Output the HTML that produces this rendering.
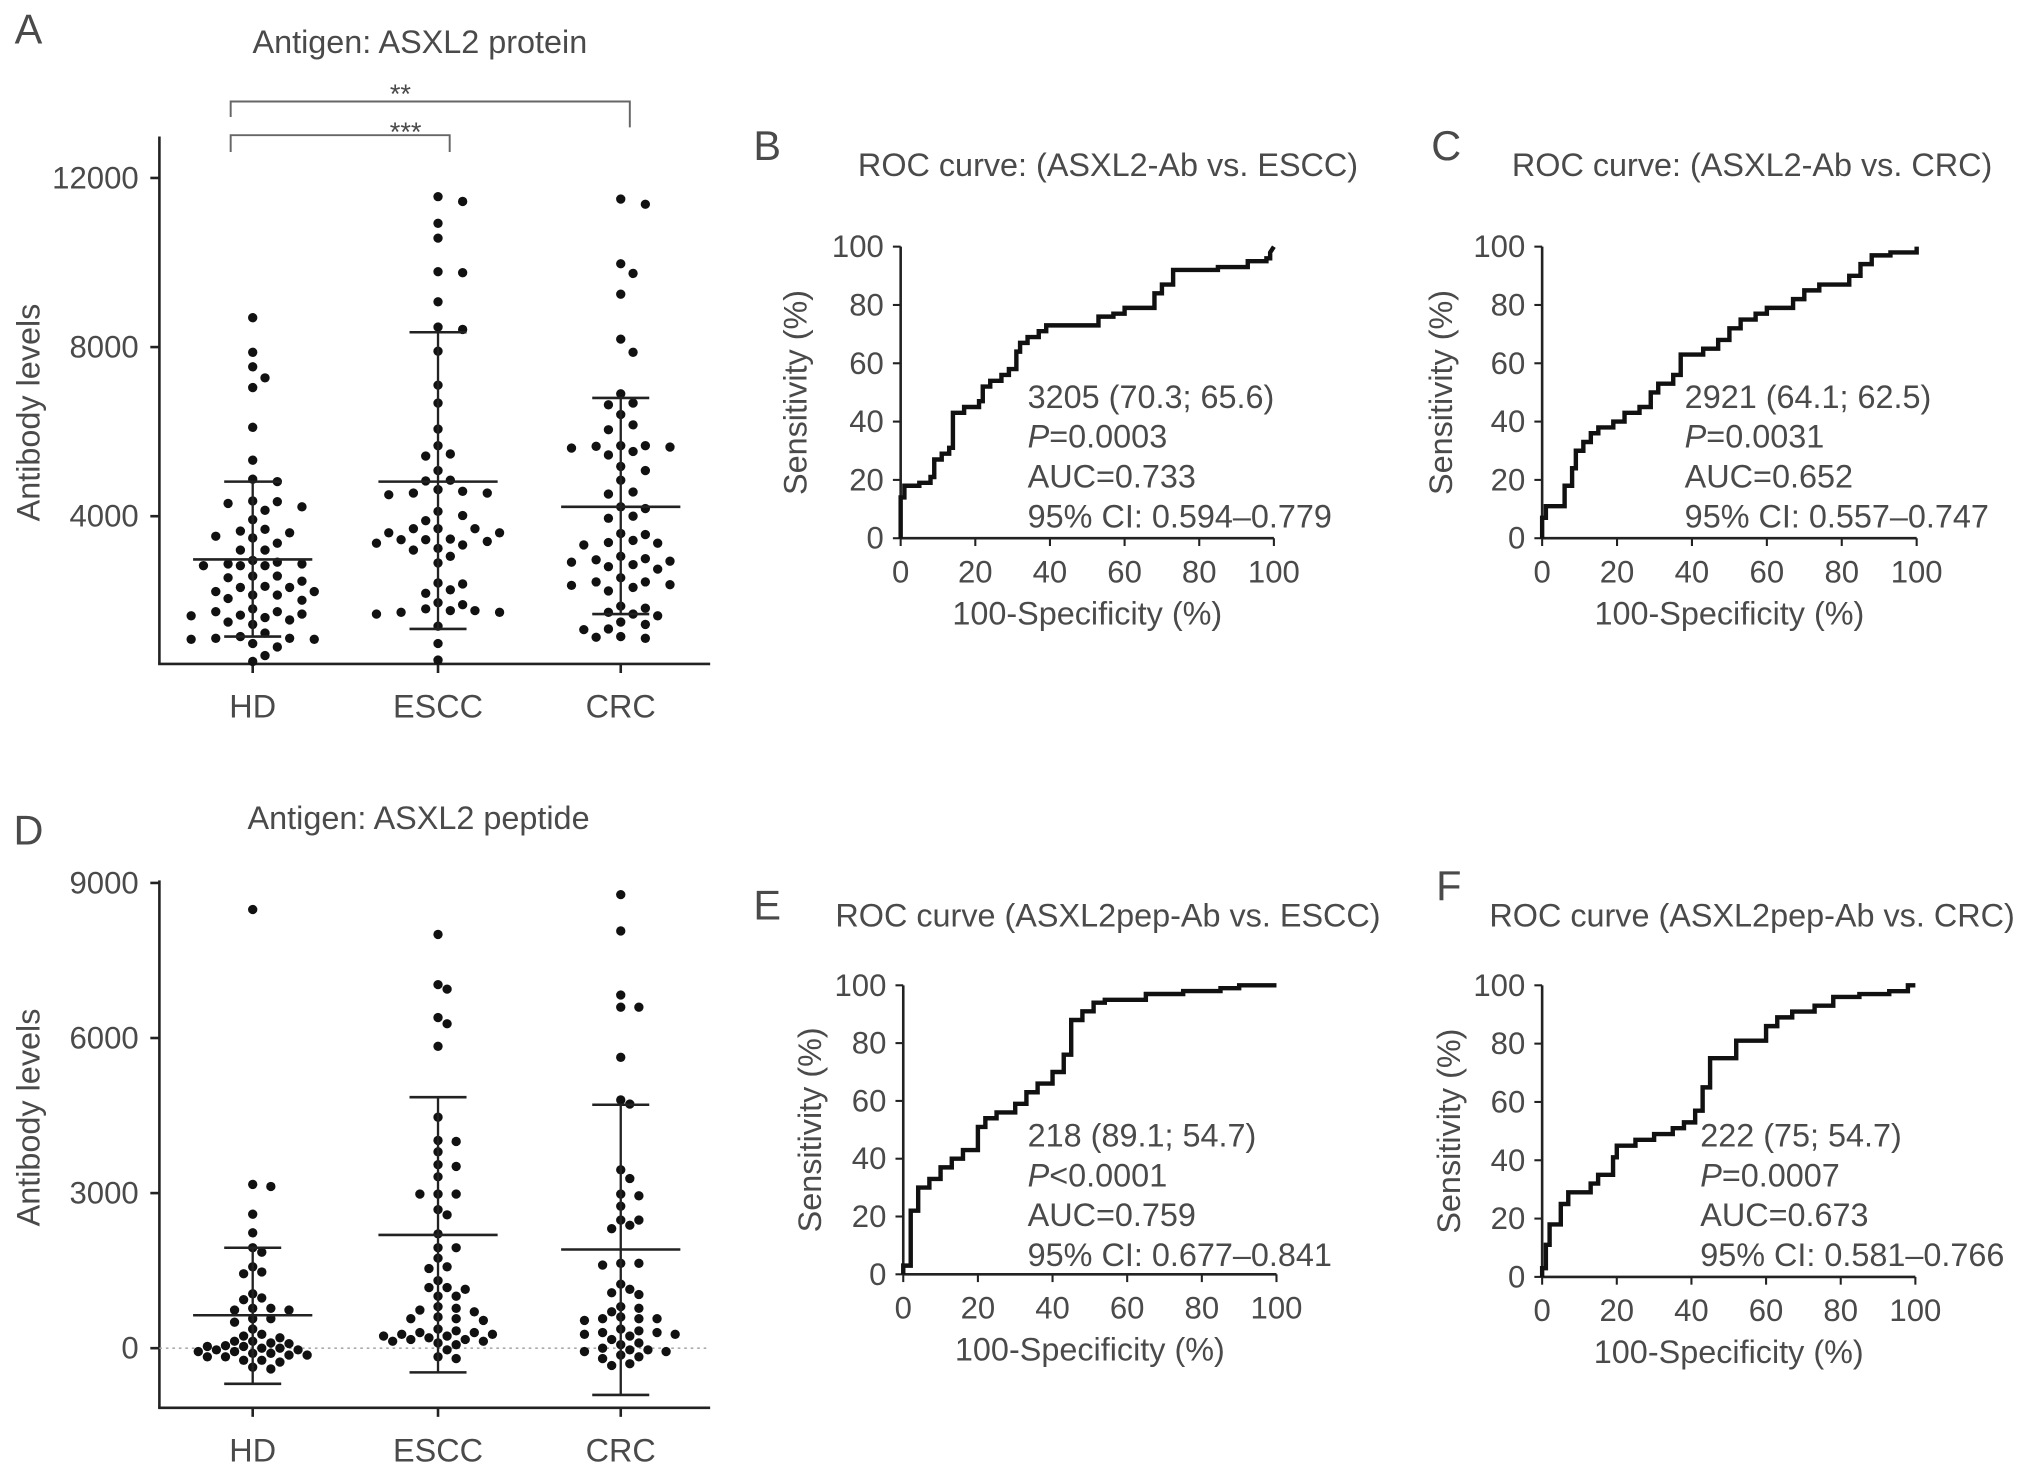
<!DOCTYPE html>
<html><head><meta charset="utf-8">
<style>
html,body{margin:0;padding:0;background:#fff;}
svg{display:block;}
text{font-family:"Liberation Sans",sans-serif;fill:#4a4a4a;}
</style></head>
<body>
<svg id="fig" width="2032" height="1473" viewBox="0 0 1568 1136" xmlns="http://www.w3.org/2000/svg">
<g id="g"></g>
</svg>
<script>
// ---------- Data ----------
const categories = ["HD","ESCC","CRC"];
const proteinHD = [8695,7877,7533,7272,7043,6102,5325,4818,4875,4360,4302,4221,4343,4139,3918,3648,3689,3607,3526,3485,3198,3362,3198,2871,2830,2912,2953,2830,2830,2871,2585,2585,2544,2462,2315,2315,2340,2217,2135,2217,2135,2053,2012,1808,1742,1685,1660,1603,1644,1742,1496,1440,1546,1235,1088,989,907,1112,1153,1112,1088,703,564];
const proteinESCC = [11558,11444,10928,10577,9759,9783,9071,8474,8417,7902,7100,6675,6061,5668,5423,5472,5080,4834,4851,4548,4589,4630,4507,4548,4114,4016,3894,3705,3705,3607,3705,3607,3460,3444,3362,3444,3403,3321,3239,3198,3051,2895,2397,2421,2258,2176,1906,1955,1808,1726,1726,1685,1767,1767,1399,989,597];
const proteinCRC = [11501,11378,9971,9742,9251,8188,7877,6896,6675,6634,6405,6160,6045,5530,5448,5668,5652,5668,5636,5611,5178,5080,4851,4572,4523,4221,4180,3951,4000,3591,3566,3378,3321,3362,3427,2969,3051,2936,2994,2912,2855,2748,2806,2446,2446,2380,2315,2544,2364,2233,1873,1824,1726,1685,1644,1496,1317,1440,1333,1153,1137,1112];
const proteinMean = [2977,4818,4221];
const proteinUpper = [4818,8351,6798];
const proteinLower = [1153,1333,1685];
const proteinTicks = [4000,8000,12000];

const peptideHD = [8486,3168,3128,2592,2231,1943,1856,1574,1474,1440,1052,972,938,771,771,738,738,570,503,570,369,268,235,201,134,101,34,34,0,0,-33,-33,-66,-66,-100,-100,-134,-134,-167,-167,-234,-234,-268,-368,-402,134,88,48];
const peptideESCC = [8004,7033,6946,6396,6276,5840,4468,4019,3999,3798,3550,3516,3316,2981,2981,2981,2680,2579,2211,1943,1943,1742,1574,1541,1307,1172,1172,1139,1005,1005,804,771,738,704,604,570,570,537,369,335,302,302,268,268,235,235,201,168,168,134,101,67,134,-33,-167,-201];
const peptideCRC = [8774,8071,6832,6597,6597,5626,4802,4722,3450,3282,2981,2947,2747,2478,2478,2378,2311,1641,1641,1608,1239,1139,1072,1038,804,771,704,570,570,537,570,604,369,335,302,302,268,268,235,168,101,67,0,-33,-33,-66,-66,-134,-167,-201,-301,-335];
const peptideMean = [637,2190,1909];
const peptideUpper = [1943,4856,4709];
const peptideLower = [-689,-468,-904];
const peptideTicks = [0,3000,6000,9000];

const rocTicks = [0,20,40,60,80,100];
const rocB_fpr = [0,0,1,1,5,5,8,8,9,9,11,11,13,13,14,14,17,17,21,21,22,22,24,24,27,27,29,29,31,31,32,32,34,34,37,37,39,39,53,53,57,57,60,60,68,68,70,70,73,73,85,85,93,93,98,98,99,99,100];
const rocB_tpr = [0,14,14,18,18,19,19,21,21,27,27,29,29,31,31,43,43,45,45,47,47,52,52,54,54,56,56,58,58,64,64,67,67,69,69,71,71,73,73,76,76,77,77,79,79,84,84,87,87,92,92,93,93,95,95,96,96,98,100];
const rocC_fpr = [0,0,1,1,6,6,8,8,9,9,11,11,13,13,15,15,19,19,22,22,26,26,29,29,31,31,35,35,37,37,43,43,47,47,50,50,53,53,57,57,60,60,67,67,70,70,74,74,82,82,85,85,88,88,93,93,100,100];
const rocC_tpr = [0,7,7,11,11,18,18,24,24,30,30,33,33,36,36,38,38,40,40,43,43,45,45,50,50,53,53,56,56,63,63,65,65,68,68,72,72,75,75,77,77,79,79,82,82,85,85,87,87,90,90,94,94,97,97,98,98,100];
const rocE_fpr = [0,0,2,2,4,4,7,7,10,10,13,13,16,16,20,20,22,22,25,25,30,30,33,33,36,36,40,40,43,43,45,45,48,48,51,51,54,54,65,65,75,75,85,85,90,90,100];
const rocE_tpr = [0,3,3,22,22,30,30,33,33,37,37,40,40,43,43,51,51,54,54,56,56,59,59,63,63,66,66,70,70,76,76,88,88,91,91,94,94,95,95,97,97,98,98,99,99,100,100];
const rocF_fpr = [0,0,1,1,2,2,5,5,7,7,13,13,15,15,19,19,20,20,25,25,30,30,35,35,38,38,41,41,43,43,45,45,52,52,60,60,63,63,67,67,73,73,78,78,85,85,93,93,98,98,100];
const rocF_tpr = [0,3,3,11,11,18,18,25,25,29,29,32,32,35,35,41,41,45,45,47,47,49,49,51,51,53,53,57,57,65,65,75,75,81,81,86,86,89,89,91,91,93,93,96,96,97,97,98,98,100,100];

// ---------- helpers ----------
const NS="http://www.w3.org/2000/svg";
const root=document.getElementById('g');
function mk(tag,attrs,parent,txt){const e=document.createElementNS(NS,tag);for(const k in attrs)e.setAttribute(k,attrs[k]);if(txt!==undefined)e.textContent=txt;(parent||root).appendChild(e);return e;}
const AX="#222";

function label(x,y,txt,size,anchor,name,extra){
  const t=mk('text',Object.assign({x:x,y:y,'font-size':size,'text-anchor':anchor||'middle','dominant-baseline':'central'},extra||{}),root,txt);
  
  
  return t;
}

// ---------- Dot plots ----------
function dotPanel(o){
  const g=mk('g',{});
  
  
  const yS=v=>o.y0-(v-o.vmin)*(o.y0-o.y1)/(o.vmax-o.vmin);
  const catX=[195,338,479];
  const ya=mk('line',{x1:o.ax,y1:o.top,x2:o.ax,y2:o.axisY,stroke:AX,'stroke-width':2},g);
  
  
  const xa=mk('line',{x1:o.ax-1,y1:o.axisY,x2:548,y2:o.axisY,stroke:AX,'stroke-width':2},g);
  
  
  o.ticks.forEach(t=>{
    const y=yS(t);
    const tk=mk('line',{x1:o.ax-7,y1:y,x2:o.ax,y2:y,stroke:AX,'stroke-width':2},g);
    
    
    label(o.ax-16,y,String(t),24,'end','y-tick-label');
  });
  if(o.zeroLine){
    const zl=mk('line',{x1:o.ax,y1:yS(0),x2:548,y2:yS(0),stroke:'#aaa','stroke-width':1.3,'stroke-dasharray':'2,3'},g);
    
    
  }
  o.groups.forEach((vals,i)=>{
    const cx=catX[i];
    const tk=mk('line',{x1:cx,y1:o.axisY,x2:cx,y2:o.axisY+7,stroke:AX,'stroke-width':2},g);
    
    
    label(cx,o.axisY+33,categories[i],25,'middle','x-tick-label-'+categories[i].toLowerCase());
    const r=3.6, d=o.step, minD=o.minD, maxOff=o.maxOff, placed=[];
    const sorted=vals.slice().sort((a,b)=>b-a);
    sorted.forEach(v=>{
      const y=yS(v);
      let best=cx,bestDist=-1;
      for(let k=0;;k++){
        const off=(k===0?0:(k%2? 1:-1)*Math.ceil(k/2)*d);
        if(Math.abs(off)>maxOff)break;
        const x=cx+off;
        const md=placed.reduce((m,p)=>Math.min(m,Math.hypot(p[0]-x,p[1]-y)),1e9);
        if(md>=minD){best=x;bestDist=md;break;}
        if(md>bestDist){bestDist=md;best=x;}
      }
      placed.push([best,y]);
      const c=mk('circle',{cx:best,cy:y,r:r,fill:'#111'},g);
      
      
    });
    const m=mk('line',{x1:cx-46,y1:yS(o.mean[i]),x2:cx+46,y2:yS(o.mean[i]),stroke:AX,'stroke-width':2},g);
    
    
    const e=mk('line',{x1:cx,y1:yS(o.upper[i]),x2:cx,y2:yS(o.lower[i]),stroke:AX,'stroke-width':1.8},g);
    
    
    [o.upper[i],o.lower[i]].forEach(v=>{
      const cap=mk('line',{x1:cx-22,y1:yS(v),x2:cx+22,y2:yS(v),stroke:AX,'stroke-width':2},g);
      
      
    });
  });
}

dotPanel({name:'protein-dot-plot',ax:123,top:105,axisY:512,y0:528.5,y1:137,vmin:0,vmax:12000,ticks:proteinTicks,groups:[proteinHD,proteinESCC,proteinCRC],mean:proteinMean,upper:proteinUpper,lower:proteinLower,step:9.5,minD:10.5,maxOff:48});
dotPanel({name:'peptide-dot-plot',ax:123,top:679,axisY:1086,y0:1040,y1:681,vmin:0,vmax:9000,ticks:peptideTicks,groups:[peptideHD,peptideESCC,peptideCRC],mean:peptideMean,upper:peptideUpper,lower:peptideLower,zeroLine:true,step:7,minD:7.5,maxOff:46});

const br1=mk('path',{d:'M178,90 V78 H486 V98',fill:'none',stroke:'#666','stroke-width':1.5});


const br2=mk('path',{d:'M178,117 V104 H347 V117',fill:'none',stroke:'#666','stroke-width':1.5});


label(309,72,'**',21,'middle','significance-stars-crc');
label(313,101,'***',21,'middle','significance-stars-escc');

label(22,22,'A',32,'middle','panel-label-a');
label(324,32,'Antigen: ASXL2 protein',25,'middle','title-a');
label(22,318,'Antibody levels',25,'middle','y-axis-title-a',{transform:'rotate(-90 22 318)'});
label(22,640,'D',32,'middle','panel-label-d');
label(323,631,'Antigen: ASXL2 peptide',25,'middle','title-d');
label(22,862,'Antibody levels',25,'middle','y-axis-title-d',{transform:'rotate(-90 22 862)'});

// ---------- ROC panels ----------
function rocPanel(o){
  const g=mk('g',{});
  
  
  const xS=v=>o.x0+v*(o.x1-o.x0)/100;
  const yS=v=>o.y0-v*(o.y0-o.y1)/100;
  const ya=mk('line',{x1:o.x0,y1:o.y1,x2:o.x0,y2:o.y0,stroke:AX,'stroke-width':2},g);
  
  
  const xa=mk('line',{x1:o.x0,y1:o.y0,x2:o.x1,y2:o.y0,stroke:AX,'stroke-width':2},g);
  
  
  rocTicks.forEach(t=>{
    const ty=mk('line',{x1:o.x0-6,y1:yS(t),x2:o.x0,y2:yS(t),stroke:AX,'stroke-width':1.6},g);
    
    
    label(o.x0-13,yS(t),String(t),24,'end','y-tick-label');
    const tx=mk('line',{x1:xS(t),y1:o.y0,x2:xS(t),y2:o.y0+6,stroke:AX,'stroke-width':1.6},g);
    
    
    label(xS(t),o.y0+26,String(t),24,'middle','x-tick-label');
  });
  const pts=o.fpr.map((f,i)=>xS(f)+','+yS(o.tpr[i])).join(' ');
  const pl=mk('polyline',{points:pts,fill:'none',stroke:'#111','stroke-width':3.4,'stroke-linejoin':'miter'},g);
  
  
  label(o.letterX,o.letterY,o.letter,32,'middle','panel-label-'+o.letter.toLowerCase());
  label(o.titleX,o.titleY,o.title,25,'middle','roc-title-'+o.letter.toLowerCase());
  label((o.x0+o.x1)/2,o.y0+58,'100-Specificity (%)',25,'middle','x-axis-title');
  const yt=(o.y0+o.y1)/2;
  label(o.ytX,yt,'Sensitivity (%)',25,'middle','y-axis-title',{transform:'rotate(-90 '+o.ytX+' '+yt+')'});
  o.notes.forEach((n,i)=>{
    const t=label(o.nx,o.ny+i*30.7,'',25,'start','annotation-line');
    if(i===1){
      mk('tspan',{'font-style':'italic'},t,'P');
      mk('tspan',{},t,n.slice(1));
    } else t.textContent=n;
  });
}
rocPanel({name:'roc-b',x0:695,x1:983,y0:415,y1:190,fpr:rocB_fpr,tpr:rocB_tpr,letter:'B',letterX:592,letterY:112,title:'ROC curve: (ASXL2-Ab vs. ESCC)',titleX:855,titleY:127,ytX:614,nx:793,ny:306,notes:['3205 (70.3; 65.6)','P=0.0003','AUC=0.733','95% CI: 0.594\u20130.779']});
rocPanel({name:'roc-c',x0:1190,x1:1479,y0:415,y1:190,fpr:rocC_fpr,tpr:rocC_tpr,letter:'C',letterX:1116,letterY:112,title:'ROC curve: (ASXL2-Ab vs. CRC)',titleX:1352,titleY:127,ytX:1112,nx:1300,ny:306,notes:['2921 (64.1; 62.5)','P=0.0031','AUC=0.652','95% CI: 0.557\u20130.747']});
rocPanel({name:'roc-e',x0:697,x1:985,y0:983,y1:760,fpr:rocE_fpr,tpr:rocE_tpr,letter:'E',letterX:592,letterY:698,title:'ROC curve (ASXL2pep-Ab vs. ESCC)',titleX:855,titleY:706,ytX:625,nx:793,ny:876,notes:['218 (89.1; 54.7)','P<0.0001','AUC=0.759','95% CI: 0.677\u20130.841']});
rocPanel({name:'roc-f',x0:1190,x1:1478,y0:985,y1:760,fpr:rocF_fpr,tpr:rocF_tpr,letter:'F',letterX:1118,letterY:683,title:'ROC curve (ASXL2pep-Ab vs. CRC)',titleX:1352,titleY:706,ytX:1118,nx:1312,ny:876,notes:['222 (75; 54.7)','P=0.0007','AUC=0.673','95% CI: 0.581\u20130.766']});
</script>
</body></html>
